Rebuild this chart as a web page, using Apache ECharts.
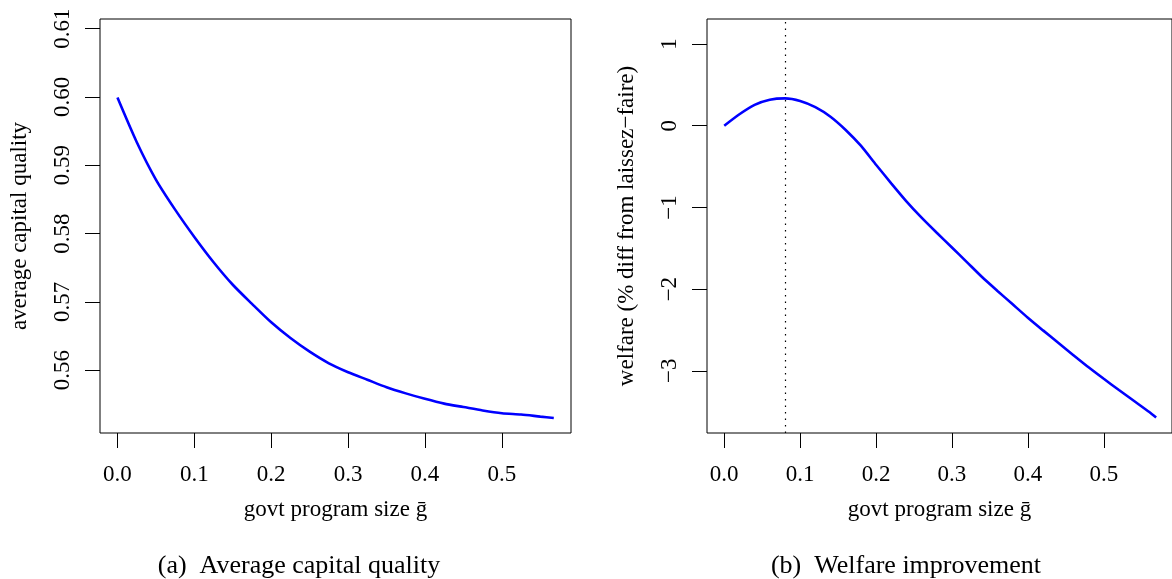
<!DOCTYPE html>
<html>
<head>
<meta charset="utf-8">
<title>govt program size</title>
<script src="https://cdn.jsdelivr.net/npm/echarts@6/dist/echarts.min.js"></script>
<style>
    html, body { margin: 0; padding: 0; background: #fff; }
    #main { width: 1172px; height: 579px; }
</style>
</head>
<body>
<div id="main"></div>
<script>
// panel (a): average capital quality
var gQuality = [0, 0.025, 0.05, 0.075, 0.1, 0.125, 0.15, 0.175, 0.2, 0.225, 0.25, 0.275, 0.3,
    0.325, 0.35, 0.375, 0.4, 0.425, 0.45, 0.475, 0.5, 0.525, 0.55, 0.5675];
var quality = [0.5999, 0.5934, 0.5879, 0.5835, 0.5795, 0.5758, 0.5725, 0.5697, 0.5670, 0.5647,
    0.5627, 0.5610, 0.5597, 0.5586, 0.5575, 0.5566, 0.5558, 0.5551, 0.5546, 0.5541,
    0.5537, 0.5535, 0.5532, 0.5530];

// panel (b): welfare, % diff from laissez-faire
var gWelfare = [0, 0.02, 0.04, 0.06, 0.08, 0.10, 0.12, 0.14, 0.16, 0.18, 0.20, 0.22, 0.24, 0.26,
    0.28, 0.30, 0.32, 0.34, 0.36, 0.38, 0.40, 0.42, 0.44, 0.46, 0.48, 0.50, 0.52, 0.54, 0.56, 0.569];
var welfare = [0, 0.140, 0.255, 0.318, 0.334, 0.303, 0.227, 0.110, -0.052, -0.245, -0.478, -0.705,
    -0.925, -1.125, -1.31, -1.49, -1.672, -1.855, -2.022, -2.186, -2.350, -2.505, -2.657, -2.808,
    -2.957, -3.098, -3.235, -3.370, -3.505, -3.572];
var gBest = 0.0788;

var xTicks = [0, 0.1, 0.2, 0.3, 0.4, 0.5];
var qualityTicks = [0.56, 0.57, 0.58, 0.59, 0.60, 0.61];
var welfareTicks = [-3, -2, -1, 0, 1];

var serif = "'Liberation Serif', 'Times New Roman', serif";

function zip(xs, ys) {
    var out = [];
    for (var i = 0; i < xs.length; i++) {
        out.push([xs[i], ys[i]]);
    }
    return out;
}

function minus(v) {
    return v < 0 ? '\u2212' + Math.abs(v) : String(v);
}

function xAxisFor(gridIndex) {
    return {
        type: 'value',
        gridIndex: gridIndex,
        min: -0.0227,
        max: 0.5899,
        name: 'govt program size \u1E21',
        nameLocation: 'middle',
        nameGap: 65,
        nameTextStyle: {color: '#000', fontSize: 23, fontFamily: serif},
        axisLine: {show: false, onZero: false},
        splitLine: {show: false},
        axisTick: {
            customValues: xTicks,
            inside: false,
            length: 15,
            lineStyle: {color: '#000', width: 1}
        },
        axisLabel: {
            customValues: xTicks,
            margin: 30,
            color: '#000',
            fontSize: 23,
            fontFamily: serif,
            formatter: function (v) {
                return v.toFixed(1);
            }
        }
    };
}

function yAxisFor(gridIndex, min, max, name, ticks, fmt) {
    return {
        type: 'value',
        gridIndex: gridIndex,
        min: min,
        max: max,
        name: name,
        nameLocation: 'middle',
        nameGap: 69,
        nameTextStyle: {color: '#000', fontSize: 23, fontFamily: serif},
        axisLine: {show: false, onZero: false},
        splitLine: {show: false},
        axisTick: {
            customValues: ticks,
            inside: false,
            length: 15,
            lineStyle: {color: '#000', width: 1}
        },
        axisLabel: {
            customValues: ticks,
            rotate: 90,
            margin: 26,
            color: '#000',
            fontSize: 23,
            fontFamily: serif,
            formatter: fmt
        }
    };
}

var option = {
    animation: false,
    backgroundColor: '#fff',
    title: [
        {
            text: '(a)  Average capital quality',
            left: 299,
            top: 553,
            textAlign: 'center',
            padding: 0,
            textStyle: {color: '#000', fontSize: 26, fontWeight: 'normal', fontFamily: serif}
        },
        {
            text: '(b)  Welfare improvement',
            left: 906,
            top: 553,
            textAlign: 'center',
            padding: 0,
            textStyle: {color: '#000', fontSize: 26, fontWeight: 'normal', fontFamily: serif}
        }
    ],
    grid: [
        {left: 100, top: 19, width: 471, height: 414, show: true, borderColor: '#000', borderWidth: 1},
        {left: 707, top: 19, width: 470, height: 414, show: true, borderColor: '#000', borderWidth: 1}
    ],
    xAxis: [xAxisFor(0), xAxisFor(1)],
    yAxis: [
        yAxisFor(0, 0.5508, 0.6114, 'average capital quality', qualityTicks, function (v) {
            return v.toFixed(2);
        }),
        yAxisFor(1, -3.761, 1.306, 'welfare (% diff from laissez\u2212faire)', welfareTicks, minus)
    ],
    series: [
        {
            type: 'line',
            xAxisIndex: 0,
            yAxisIndex: 0,
            data: zip(gQuality, quality),
            showSymbol: false,
            smooth: 0.25,
            lineStyle: {color: '#0000ff', width: 2.6}
        },
        {
            type: 'line',
            xAxisIndex: 1,
            yAxisIndex: 1,
            data: zip(gWelfare, welfare),
            showSymbol: false,
            smooth: 0.2,
            lineStyle: {color: '#0000ff', width: 2.6},
            markLine: {
                silent: true,
                symbol: 'none',
                label: {show: false},
                lineStyle: {color: '#000', width: 1.2, type: [1.5, 5]},
                data: [{xAxis: gBest}]
            }
        }
    ]
};

var chart = echarts.init(document.getElementById('main'));
chart.setOption(option);
</script>
</body>
</html>
